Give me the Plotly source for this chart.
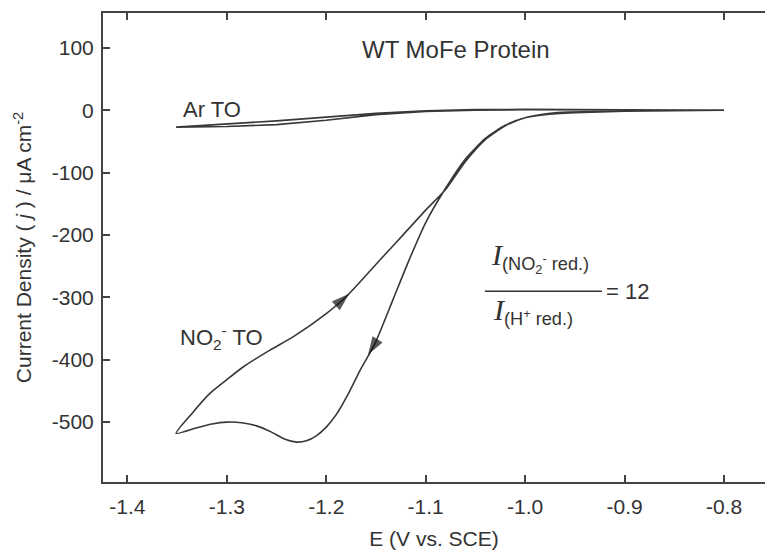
import plotly.graph_objects as go

# NO2- turnover CV: cathodic scan from -0.8 V, then anodic return
no2_x = [-0.80, -0.85, -0.90, -0.95, -0.98, -1.00, -1.02, -1.04, -1.06, -1.08, -1.10,
         -1.118, -1.133, -1.151, -1.166, -1.178, -1.19, -1.20, -1.21, -1.22, -1.23, -1.242,
         -1.255, -1.27, -1.285, -1.30, -1.315, -1.33, -1.351,
         -1.335, -1.317, -1.30, -1.284, -1.257, -1.233, -1.20, -1.18, -1.146,
         -1.12, -1.10, -1.08, -1.06, -1.04, -1.02, -1.00, -0.97, -0.90, -0.80]
no2_y = [0, -0.5, -1.5, -4, -7, -12, -24, -45, -78, -125, -180,
         -245, -304, -374, -417, -455, -488, -508, -522, -530, -532, -527,
         -516, -506, -501, -500, -503, -509, -518,
         -486, -454, -432, -412, -385, -363, -326, -299, -240,
         -195, -160, -127, -82, -47, -25, -12, -4, -1, 0]

# Ar turnover CV
ar_x = [-0.80, -0.90, -1.00, -1.05, -1.10, -1.15, -1.20, -1.25, -1.30, -1.351,
        -1.33, -1.30, -1.25, -1.20, -1.15, -1.10, -1.05, -1.00, -0.90, -0.80]
ar_y = [0, 1, 1, 0, -2, -7, -16, -23, -26, -27,
        -25, -22, -17, -11, -5, -1, 1, 1.5, 1, 0]

# arrowheads: [point before, tip]
arrow_up_x = [-1.19, -1.177]
arrow_up_y = [-313, -294]
arrow_down_x = [-1.151, -1.158]
arrow_down_y = [-374, -392]

x_ticks = [-1.4, -1.3, -1.2, -1.1, -1.0, -0.9, -0.8]
x_ticklabels = ["-1.4", "-1.3", "-1.2", "-1.1", "-1.0", "-0.9", "-0.8"]
y_ticks = [100, 0, -100, -200, -300, -400, -500]
y_ticklabels = ["100", "0", "-100", "-200", "-300", "-400", "-500"]

FONT = "Liberation Sans, Arial, sans-serif"
LC = "#383838"
TC = "#333333"

fig = go.Figure()
fig.add_trace(go.Scatter(x=ar_x, y=ar_y, mode="lines",
                         line=dict(color=LC, width=1.6), showlegend=False))
fig.add_trace(go.Scatter(x=no2_x, y=no2_y, mode="lines",
                         line=dict(color=LC, width=1.6, shape="spline", smoothing=0.6),
                         showlegend=False))
for ax_, ay_ in [(arrow_up_x, arrow_up_y), (arrow_down_x, arrow_down_y)]:
    fig.add_trace(go.Scatter(x=ax_, y=ay_, mode="markers", showlegend=False,
                             marker=dict(symbol="arrow", size=[0, 19], color="#111",
                                         angleref="previous", line=dict(width=0))))
# invisible trace on top axis for top ticks
fig.add_trace(go.Scatter(x=[x_ticks[0]], y=[0], xaxis="x2", mode="markers",
                         marker=dict(opacity=0), showlegend=False, hoverinfo="skip"))

xr = [-1.4245, -0.7588]
fig.update_layout(
    width=765, height=557,
    margin=dict(l=103, r=0, t=13, b=75),
    plot_bgcolor="white", paper_bgcolor="white",
    font=dict(family=FONT, size=21, color=TC),
    xaxis=dict(range=xr, tickvals=x_ticks, ticktext=x_ticklabels,
               ticks="inside", ticklen=7, tickwidth=1.5, tickcolor="#444",
               ticklabelstandoff=5,
               showgrid=False, zeroline=False, showline=True, linecolor="#444", linewidth=2,
               title=dict(text="E (V vs. SCE)", font=dict(size=21), standoff=14)),
    xaxis2=dict(range=xr, overlaying="x", side="top", tickvals=x_ticks, showticklabels=False,
                ticks="inside", ticklen=7, tickwidth=1.5, tickcolor="#444",
                showgrid=False, zeroline=False, showline=True, linecolor="#444", linewidth=2),
    yaxis=dict(range=[-596, 156], tickvals=y_ticks, ticktext=y_ticklabels,
               ticks="inside", ticklen=7, tickwidth=1.5, tickcolor="#444",
               ticklabelstandoff=3,
               showgrid=False, zeroline=False, showline=True, linecolor="#444", linewidth=2,
               title=dict(text="Current Density ( <i>j</i> ) / μA cm<sup>-2</sup>",
                          font=dict(size=21), standoff=14)),
)

fig.add_annotation(x=-1.07, y=97, text="WT MoFe Protein", showarrow=False,
                   font=dict(size=24, color=TC))
fig.add_annotation(x=-1.346, y=1, text="Ar TO", showarrow=False, xanchor="left",
                   yanchor="middle", font=dict(size=22, color=TC))
fig.add_annotation(x=-1.349, y=-365, text="NO<sub>2</sub><sup>-</sup> TO", showarrow=False,
                   xanchor="left", font=dict(size=22, color=TC))
serif_i = '<span style="font-family:Liberation Serif, Times New Roman, serif;font-size:30px"><i>I</i></span>'
fig.add_annotation(x=-1.036, y=-236, text=serif_i + "<sub>(NO<sub>2</sub><sup>-</sup> red.)</sub>",
                   showarrow=False, xanchor="left", font=dict(size=26, color=TC))
fig.add_annotation(x=-1.034, y=-322, text=serif_i + "<sub>(H<sup>+</sup> red.)</sub>",
                   showarrow=False, xanchor="left", font=dict(size=26, color=TC))
fig.add_annotation(x=-0.9207, y=-290, text="= 12", showarrow=False, xanchor="left",
                   font=dict(size=22, color=TC))
fig.add_shape(type="line", x0=-1.0405, x1=-0.9228, y0=-290, y1=-290,
              line=dict(color="#333", width=1.5))

fig.write_html("out.html")
